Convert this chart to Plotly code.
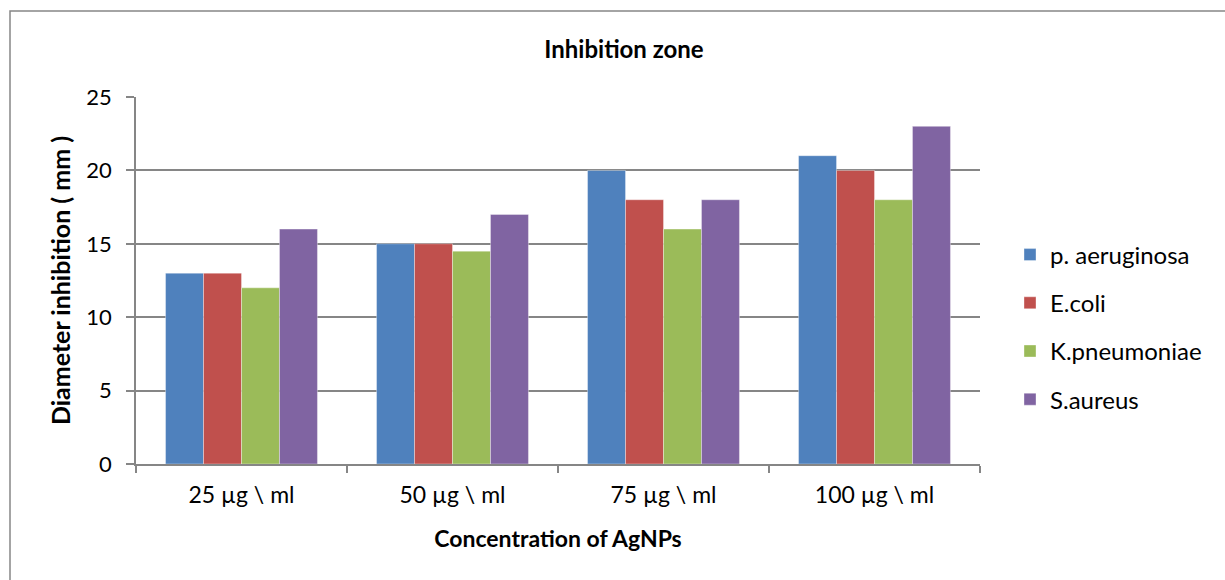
import plotly.graph_objects as go

categories = ["25 µg \\ ml", "50 µg \\ ml", "75 µg \\ ml", "100 µg \\ ml"]
series_names = ["p. aeruginosa", "E.coli", "K.pneumoniae", "S.aureus"]
p_aeruginosa = [13, 15, 20, 21]
e_coli = [13, 15, 18, 20]
k_pneumoniae = [12, 14.5, 16, 18]
s_aureus = [16, 17, 18, 23]
colors = ["#4F81BD", "#C0504D", "#9BBB59", "#8064A2"]
y_ticks = [0, 5, 10, 15, 20, 25]

FONT = "Lato, Carlito, Calibri, sans-serif"
W, H = 1225, 580
L, R, T, B = 136, 245, 97, 116
pw, ph = W - L - R, H - T - B

fig = go.Figure()
for i, (name, vals) in enumerate(zip(series_names, [p_aeruginosa, e_coli, k_pneumoniae, s_aureus])):
    fig.add_trace(go.Bar(
        x=categories, y=vals, name=name, legendgroup=name,
        marker=dict(color=colors[i], line=dict(width=0.6, color="rgba(255,255,255,0.6)")),
    ))

def px_x(x):
    return (x - L) / pw

def px_y(y):
    return (H - B - y) / ph

fig.update_layout(
    width=W, height=H,
    margin=dict(l=L, r=R, t=T, b=B),
    paper_bgcolor="white", plot_bgcolor="white",
    barmode="group", bargap=0.28, bargroupgap=0,
    font=dict(family=FONT, size=22, color="black"),
    title=dict(text="<b>Inhibition zone</b>", x=px_x(624), xref="paper", xanchor="center",
               y=1 - 50 / H, yanchor="middle", font=dict(size=24, family=FONT)),
    xaxis=dict(
        showline=True, linecolor="#868686", linewidth=1.5,
        ticks="outside", ticklen=7, tickcolor="#868686", tickwidth=1.5,
        tickson="boundaries", tickfont=dict(size=23), ticklabelstandoff=10,
        title=dict(text="<b>Concentration of AgNPs</b>", font=dict(size=23), standoff=24),
    ),
    yaxis=dict(
        range=[0, 25], tickvals=y_ticks,
        showline=True, linecolor="#868686", linewidth=1.5,
        showgrid=True, gridcolor="#868686", gridwidth=1.5,
        ticks="outside", ticklen=8, tickcolor="#868686", tickwidth=1.5,
        tickfont=dict(size=22), zeroline=False, ticklabelstandoff=10,
        title=dict(text="<b>Diameter inhibition ( mm )</b>", font=dict(size=25), standoff=9),
    ),
    legend=dict(
        x=px_x(1010), xanchor="left", y=px_y(327), yanchor="middle",
        font=dict(size=24), tracegroupgap=14, itemwidth=30,
        bgcolor="rgba(0,0,0,0)",
    ),
    shapes=[dict(
        type="rect", xref="paper", yref="paper",
        x0=px_x(10), x1=px_x(1260), y0=px_y(620), y1=px_y(11),
        line=dict(color="#868686", width=1.5), fillcolor="rgba(0,0,0,0)", layer="below",
    )],
)

fig.write_html("out.html")
